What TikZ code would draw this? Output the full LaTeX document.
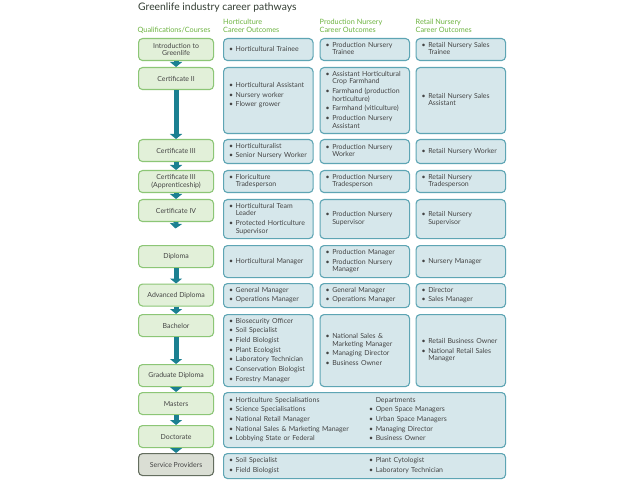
\documentclass[tikz,border=0pt]{standalone}
\usepackage{fontspec}
\setmainfont{Lato}
\usetikzlibrary{arrows.meta}
\definecolor{ttl}{RGB}{52,62,52}
\definecolor{hdr}{RGB}{108,179,63}
\definecolor{txt}{RGB}{68,68,68}
\definecolor{qfill}{RGB}{226,240,217}
\definecolor{qline}{RGB}{140,198,118}
\definecolor{ofill}{RGB}{214,231,235}
\definecolor{oline}{RGB}{94,165,180}
\definecolor{sfill}{RGB}{218,222,212}
\definecolor{sline}{RGB}{100,110,95}
\definecolor{arrc}{RGB}{27,128,145}
\newcommand\bodyfont{\fontsize{6.95}{7.7}\selectfont}
\newcommand\hdrfont{\fontsize{7.3}{8.3}\selectfont}
\newcommand\bl{\textbullet}
\newcommand\lst[1]{\begin{tabular}{@{}p{6.7bp}@{}l@{}}#1\end{tabular}}
\begin{document}
\begin{tikzpicture}[x=1bp,y=-1bp,
  qbox/.style={draw=qline, fill=qfill, line width=1.1bp, rounded corners=4bp,
    minimum width=75bp, minimum height=22bp, anchor=north west, align=center,
    inner sep=1bp, font=\bodyfont, text=txt},
  sbox/.style={qbox, draw=sline, fill=sfill},
  obox/.style={draw=oline, fill=ofill, line width=1.1bp, rounded corners=4bp,
    anchor=north west, inner xsep=5.5bp, inner ysep=0bp, text width=78.5bp,
    align=left, font=\bodyfont, text=txt},
  wbox/.style={obox, text width=271bp},
  hdrtext/.style={anchor=west, align=left, inner sep=0pt, font=\hdrfont, text=hdr},
  arr/.style={draw=arrc, line width=5bp, -{Triangle[width=12bp,length=5bp]}}
]
\useasboundingbox (0,0) rectangle (640,480);
\fill[white] (0,0) rectangle (640,480);

% title and headers
\node[anchor=west, inner sep=0pt, font=\fontsize{10.4}{12}\selectfont, text=ttl] (title) at (138,8) {Greenlife industry career pathways};
\node[hdrtext] (h0) at (137.5,30.3) {Qualifications/Courses};
\node[hdrtext] (h1) at (223,26.2) {Horticulture\\Career Outcomes};
\node[hdrtext] (h2) at (319.5,26.2) {Production Nursery\\Career Outcomes};
\node[hdrtext] (h3) at (415.5,26.2) {Retail Nursery\\Career Outcomes};

% qualifications
\node[qbox] (intro) at (138,38) {Introduction to\\Greenlife};
\node[qbox] (c2) at (138,67) {Certificate II};
\node[qbox] (c3) at (138,139) {Certificate III};
\node[qbox] (c3a) at (138,170) {Certificate III\\(Apprenticeship)};
\node[qbox] (c4) at (138,199) {Certificate IV};
\node[qbox] (dip) at (138,245) {Diploma};
\node[qbox] (adip) at (138,283.5) {Advanced Diploma};
\node[qbox] (bach) at (138,314) {Bachelor};
\node[qbox] (grad) at (138,364) {Graduate Diploma};
\node[qbox] (mast) at (138,392) {Masters};
\node[qbox] (doc) at (138,425) {Doctorate};
\node[sbox] (serv) at (138,453) {Service Providers};

% row 1
\node[obox, minimum height=22bp] (r1a) at (223,38) {\lst{\bl & Horticultural Trainee}};
\node[obox, minimum height=22bp] (r1b) at (319.5,38) {\lst{\bl & Production Nursery\\ & Trainee}};
\node[obox, minimum height=22bp] (r1c) at (415.5,38) {\lst{\bl & Retail Nursery Sales\\ & Trainee}};
% row 2
\node[obox, minimum height=66bp] (r2a) at (223,67) {\lst{\bl & Horticultural Assistant\\[2bp] \bl & Nursery worker\\[2bp] \bl & Flower grower\\[2bp] & }};
\node[obox, minimum height=66bp] (r2b) at (319.5,67) {\lst{\bl & Assistant Horticultural\\ & Crop Farmhand\\[2bp] \bl & Farmhand (production\\ & horticulture)\\[2bp] \bl & Farmhand (viticulture)\\[2bp] \bl & Production Nursery\\ & Assistant}};
\node[obox, minimum height=66bp] (r2c) at (415.5,67) {\lst{\bl & Retail Nursery Sales\\ & Assistant}};
% row 3
\node[obox, minimum height=24bp] (r3a) at (223,139) {\lst{\bl & Horticulturalist\\[2bp] \bl & Senior Nursery Worker}};
\node[obox, minimum height=24bp] (r3b) at (319.5,139) {\lst{\bl & Production Nursery\\ & Worker}};
\node[obox, minimum height=24bp] (r3c) at (415.5,139) {\lst{\bl & Retail Nursery Worker}};
% row 4
\node[obox, minimum height=22bp] (r4a) at (223,170) {\lst{\bl & Floriculture\\ & Tradesperson}};
\node[obox, minimum height=22bp] (r4b) at (319.5,170) {\lst{\bl & Production Nursery\\ & Tradesperson}};
\node[obox, minimum height=22bp] (r4c) at (415.5,170) {\lst{\bl & Retail Nursery\\ & Tradesperson}};
% row 5
\node[obox, minimum height=39bp] (r5a) at (223,199) {\lst{\bl & Horticultural Team\\ & Leader\\[2bp] \bl & Protected Horticulture\\ & Supervisor}};
\node[obox, minimum height=39bp] (r5b) at (319.5,199) {\lst{\bl & Production Nursery\\ & Supervisor}};
\node[obox, minimum height=39bp] (r5c) at (415.5,199) {\lst{\bl & Retail Nursery\\ & Supervisor}};
% row 6
\node[obox, minimum height=32bp] (r6a) at (223,245) {\lst{\bl & Horticultural Manager}};
\node[obox, minimum height=32bp] (r6b) at (319.5,245) {\lst{\bl & Production Manager\\[2bp] \bl & Production Nursery\\ & Manager}};
\node[obox, minimum height=32bp] (r6c) at (415.5,245) {\lst{\bl & Nursery Manager}};
% row 7
\node[obox, minimum height=24bp] (r7a) at (223,283) {\lst{\bl & General Manager\\[2bp] \bl & Operations Manager}};
\node[obox, minimum height=24bp] (r7b) at (319.5,283) {\lst{\bl & General Manager\\[2bp] \bl & Operations Manager}};
\node[obox, minimum height=24bp] (r7c) at (415.5,283) {\lst{\bl & Director\\[2bp] \bl & Sales Manager}};
% row 8
\node[obox, minimum height=72bp] (r8a) at (223,314) {\lst{\bl & Biosecurity Officer\\[2bp] \bl & Soil Specialist\\[2bp] \bl & Field Biologist\\[2bp] \bl & Plant Ecologist\\[2bp] \bl & Laboratory Technician\\[2bp] \bl & Conservation Biologist\\[2bp] \bl & Forestry Manager}};
\node[obox, minimum height=72bp] (r8b) at (319.5,314) {\lst{\bl & National Sales \&\\ & Marketing Manager\\[2bp] \bl & Managing Director\\[2bp] \bl & Business Owner}};
\node[obox, minimum height=72bp] (r8c) at (415.5,314) {\lst{\bl & Retail Business Owner\\[2bp] \bl & National Retail Sales\\ & Manager}};
% row 9
\node[wbox, minimum height=55bp] (r9) at (223,392) {\makebox[140bp][l]{\lst{\bl & Horticulture Specialisations\\[2bp] \bl & Science Specialisations\\[2bp] \bl & National Retail Manager\\[2bp] \bl & National Sales \& Marketing Manager\\[2bp] \bl & Lobbying State or Federal}}\lst{ & Departments\\[2bp] \bl & Open Space Managers\\[2bp] \bl & Urban Space Managers\\[2bp] \bl & Managing Director\\[2bp] \bl & Business Owner}};
% row 10
\node[wbox, minimum height=25bp] (r10) at (223,453) {\makebox[140bp][l]{\lst{\bl & Soil Specialist\\[2bp] \bl & Field Biologist}}\lst{\bl & Plant Cytologist\\[2bp] \bl & Laboratory Technician}};

% arrows
\coordinate (c4end) at (175.5,228.5);
\draw[arr] (intro.south) -- (c2.north);
\draw[arr] (c2.south) -- (c3.north);
\draw[arr] (c3.south) -- (c3a.north);
\draw[arr] (c3a.south) -- (c4.north);
\draw[arr] (c4.south) -- (c4end);
\draw[arr] (dip.south) -- (adip.north);
\draw[arr] (adip.south) -- (bach.north);
\draw[arr] (bach.south) -- (grad.north);
\draw[arr] (grad.south) -- (mast.north);
\draw[arr] (mast.south) -- (doc.north);
\draw[arr] (doc.south) -- (serv.north);
\end{tikzpicture}
\end{document}
